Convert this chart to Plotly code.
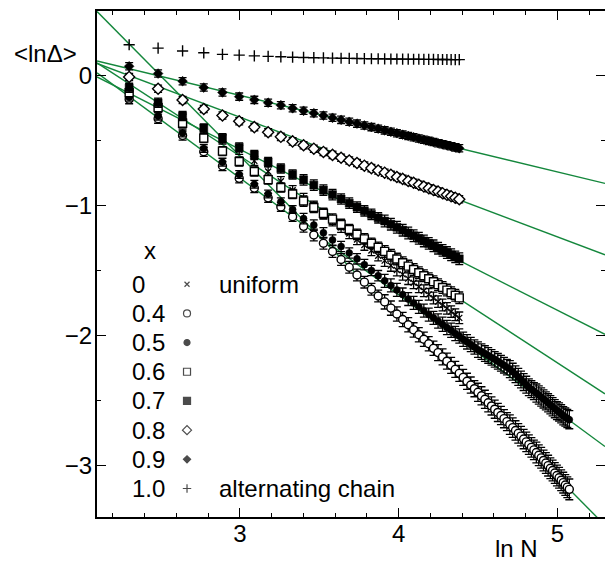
import numpy as np
import plotly.graph_objects as go

# ---------------- data ----------------
N_short = list(range(10, 81, 2))     # system sizes N = 10 ... 80
N_long = list(range(10, 161, 2))     # system sizes N = 10 ... 160

x_labels = ["0", "0.4", "0.5", "0.6", "0.7", "0.8", "0.9", "1.0"]
x_notes = ["uniform", "", "", "", "", "", "", "alternating chain"]
x_rows = [0, 1, 2, 3, 4, 5, 6, 7]

y_00 = [-0.14, -0.24, -0.33, -0.41, -0.49, -0.57, -0.655, -0.737, -0.812, -0.881,
        -0.946, -1.006, -1.063, -1.116, -1.167, -1.215, -1.261, -1.304, -1.346, -1.386,
        -1.424, -1.461, -1.496, -1.530, -1.563, -1.595, -1.626, -1.656, -1.684, -1.712,
        -1.740, -1.766, -1.792, -1.817, -1.841, -1.865]
e_00 = [0.035] * 10 + [0.04] * 10 + [0.045] * 16

y_04 = [-0.18, -0.33, -0.46, -0.585, -0.695, -0.79, -0.865, -0.94, -1.01, -1.086,
        -1.16, -1.226, -1.29, -1.354, -1.415, -1.475, -1.535, -1.59, -1.645, -1.697,
        -1.742, -1.790, -1.835, -1.878, -1.918, -1.958, -1.995, -2.030, -2.065, -2.100,
        -2.133, -2.166, -2.199, -2.231, -2.262, -2.293, -2.324, -2.354, -2.383, -2.411,
        -2.439, -2.466, -2.493, -2.519, -2.544, -2.569, -2.594, -2.618, -2.642, -2.665,
        -2.688, -2.711, -2.733, -2.755, -2.777, -2.799, -2.821, -2.842, -2.863, -2.883,
        -2.903, -2.924, -2.944, -2.964, -2.984, -3.004, -3.024, -3.042, -3.061, -3.080,
        -3.098, -3.117, -3.135, -3.153, -3.170, -3.187]
e_04 = [0.035] * 10 + [0.045] * 10 + [0.055] * 10 + [0.062] * 10 + [0.07] * 10 + [0.075] * 10 + [0.08] * 16

y_05 = [-0.165, -0.31, -0.44, -0.56, -0.665, -0.76, -0.835, -0.91, -0.97, -1.03,
        -1.10, -1.15, -1.21, -1.265, -1.315, -1.365, -1.41, -1.455, -1.50, -1.54,
        -1.58, -1.615, -1.65, -1.685, -1.72, -1.75, -1.78, -1.81, -1.84, -1.865,
        -1.89, -1.915, -1.94, -1.96, -1.985, -2.005, -2.03, -2.05, -2.07, -2.09,
        -2.11, -2.125, -2.14, -2.155, -2.17, -2.185, -2.20, -2.215, -2.23, -2.245,
        -2.26, -2.28, -2.30, -2.32, -2.34, -2.36, -2.38, -2.40, -2.415, -2.43,
        -2.445, -2.46, -2.475, -2.49, -2.505, -2.52, -2.535, -2.55, -2.565, -2.58,
        -2.59, -2.605, -2.62, -2.63, -2.64, -2.65]
e_05 = [0.03] * 10 + [0.04] * 10 + [0.05] * 10 + [0.055] * 10 + [0.06] * 10 + [0.065] * 10 + [0.07] * 16

y_06 = [-0.13, -0.245, -0.365, -0.48, -0.58, -0.66, -0.737, -0.80, -0.86, -0.91,
        -0.965, -1.014, -1.060, -1.104, -1.145, -1.184, -1.221, -1.256, -1.290, -1.322,
        -1.353, -1.383, -1.412, -1.440, -1.466, -1.492, -1.517, -1.541, -1.564, -1.587,
        -1.609, -1.631, -1.651, -1.672, -1.691, -1.711]
e_06 = [0.035] * 10 + [0.04] * 10 + [0.045] * 16

y_07 = [-0.092, -0.207, -0.309, -0.405, -0.48, -0.551, -0.610, -0.664, -0.714, -0.760,
        -0.802, -0.842, -0.880, -0.915, -0.949, -0.981, -1.011, -1.040, -1.067, -1.094,
        -1.119, -1.143, -1.167, -1.189, -1.211, -1.232, -1.252, -1.272, -1.291, -1.310,
        -1.328, -1.345, -1.362, -1.379, -1.395, -1.410]
e_07 = [0.035] * 10 + [0.04] * 10 + [0.045] * 16

y_08 = [-0.008, -0.099, -0.186, -0.255, -0.305, -0.35, -0.395, -0.435, -0.47, -0.505,
        -0.535, -0.561, -0.586, -0.609, -0.631, -0.652, -0.672, -0.692, -0.711, -0.729,
        -0.746, -0.763, -0.779, -0.794, -0.810, -0.824, -0.839, -0.853, -0.866, -0.879,
        -0.892, -0.904, -0.917, -0.928, -0.940, -0.951]
e_08 = [0.028] * 36

y_09 = [0.074, 0.018, -0.041, -0.09, -0.128, -0.16, -0.185, -0.207, -0.226, -0.25,
        -0.269, -0.288, -0.306, -0.323, -0.339, -0.354, -0.368, -0.382, -0.395, -0.407,
        -0.420, -0.431, -0.442, -0.453, -0.463, -0.473, -0.483, -0.492, -0.501, -0.510,
        -0.519, -0.527, -0.535, -0.543, -0.551, -0.558]
e_09 = [0.028] * 36

y_10 = [0.240, 0.214, 0.192, 0.178, 0.166, 0.160, 0.154, 0.150, 0.147, 0.144,
        0.142, 0.140, 0.139, 0.137, 0.136, 0.135, 0.134, 0.133, 0.132, 0.132,
        0.131, 0.130, 0.130, 0.129, 0.129, 0.128, 0.128, 0.127, 0.127, 0.127,
        0.126, 0.126, 0.126, 0.125, 0.125, 0.125]

# straight-line fits: value at ln N = 2.1 and slope, for x = 0.9, 0.8, 0.7, 0.6, 0.5, 0.4
fit_x0 = 2.1
fit_y0 = [0.115, 0.096, -0.008, 0.10, 0.023, 0.497]
fit_slope = [-0.295, -0.461, -0.62, -0.797, -0.90, -1.238]

X_RANGE = [2.1, 5.3]
Y_RANGE = [-3.4, 0.5]

# ---------------- styles ----------------
FONT = "Liberation Sans, Arial, sans-serif"
GREEN = "#14873c"
BLACK = "#000000"

styles = {
    "0":   dict(symbol="x-thin", size=6, color=BLACK, line=dict(color=BLACK, width=1.3)),
    "0.4": dict(symbol="circle", size=8, color="white", line=dict(color=BLACK, width=1.4)),
    "0.5": dict(symbol="circle", size=7, color=BLACK, line=dict(color=BLACK, width=0.5)),
    "0.6": dict(symbol="square", size=8, color="white", line=dict(color=BLACK, width=1.4)),
    "0.7": dict(symbol="square", size=8, color=BLACK, line=dict(color=BLACK, width=0.5)),
    "0.8": dict(symbol="diamond", size=8.5, color="white", line=dict(color=BLACK, width=1.4)),
    "0.9": dict(symbol="diamond", size=7.5, color=BLACK, line=dict(color=BLACK, width=0.5)),
    "1.0": dict(symbol="cross-thin", size=8, color=BLACK, line=dict(color=BLACK, width=1.4)),
}

series = [
    ("0", N_short, y_00, e_00),
    ("0.4", N_long, y_04, e_04),
    ("0.5", N_long, y_05, e_05),
    ("0.6", N_short, y_06, e_06),
    ("0.7", N_short, y_07, e_07),
    ("0.8", N_short, y_08, e_08),
    ("0.9", N_short, y_09, e_09),
    ("1.0", N_short, y_10, None),
]

fig = go.Figure()

# fitted lines (drawn beneath the data)
for y0, s in zip(fit_y0, fit_slope):
    xs = np.array(X_RANGE, dtype=float)
    ys = y0 + s * (xs - fit_x0)
    fig.add_trace(go.Scatter(x=xs, y=ys, mode="lines",
                             line=dict(color=GREEN, width=1.4),
                             hoverinfo="skip", showlegend=False))

for lab, N, y, e in series:
    err = None
    if e is not None:
        err = dict(type="data", array=e, visible=True, color=BLACK, thickness=1.3, width=4)
    fig.add_trace(go.Scatter(x=np.log(np.array(N, dtype=float)), y=y, mode="markers",
                             marker=styles[lab], error_y=err, showlegend=False,
                             name=lab))

# legend key markers placed on a small auxiliary axis (one row per x value)
small_sizes = {"0": 5, "0.4": 7, "0.5": 6, "0.6": 7, "0.7": 7, "0.8": 7, "0.9": 5.5, "1.0": 6}
fig.add_trace(go.Scatter(
    x=[0] * len(x_labels), y=x_rows, mode="markers",
    marker=dict(symbol=[styles[l]["symbol"] for l in x_labels],
                size=[small_sizes[l] for l in x_labels],
                color=[styles[l]["color"] for l in x_labels],
                line=dict(color=BLACK, width=1.2)),
    xaxis="x2", yaxis="y2", showlegend=False, hoverinfo="skip"))

axis_common = dict(
    showline=True, linecolor=BLACK, linewidth=2, mirror="allticks",
    ticks="inside", ticklen=9, tickwidth=1.3, tickcolor=BLACK,
    showgrid=False, zeroline=False,
    tickfont=dict(family=FONT, size=24, color=BLACK),
)

fig.update_layout(
    width=605, height=554,
    margin=dict(l=89, r=8, t=1, b=45),
    paper_bgcolor="white", plot_bgcolor="white",
    showlegend=False,
    xaxis=dict(range=X_RANGE, tick0=0, dtick=1, ticklabelstandoff=-6,
               minor=dict(ticks="inside", ticklen=4, tickwidth=1.3, dtick=0.2, tick0=0, tickcolor=BLACK),
               **axis_common),
    yaxis=dict(range=Y_RANGE, tick0=0, dtick=1, ticklabelstandoff=-2,
               minor=dict(ticks="inside", ticklen=4, tickwidth=1.3, dtick=0.5, tick0=0, tickcolor=BLACK),
               **axis_common),
    xaxis2=dict(domain=[0.1572, 0.1972], anchor="y2", range=[-1, 1],
                visible=False, fixedrange=True),
    yaxis2=dict(domain=[0.0275, 0.4889], anchor="x2",
                range=[len(x_labels) - 0.5, -0.5], visible=False, fixedrange=True),
)

annotations = []
for lab, note, r in zip(x_labels, x_notes, x_rows):
    annotations.append(dict(xref="paper", yref="y2", x=0.065, y=r, text=lab,
                            xanchor="left", yanchor="middle", showarrow=False,
                            font=dict(family=FONT, size=24, color=BLACK)))
    if note:
        annotations.append(dict(xref="paper", yref="y2", x=0.2362, y=r, text=note,
                                xanchor="left", yanchor="middle", showarrow=False,
                                font=dict(family=FONT, size=24, color=BLACK)))
annotations.append(dict(xref="paper", yref="paper", x=0.1043, y=0.5266, text="x",
                        xanchor="center", yanchor="middle", showarrow=False,
                        font=dict(family=FONT, size=24, color=BLACK)))
annotations.append(dict(xref="paper", yref="paper", x=-0.1014, y=0.9154, text="<lnΔ>",
                        xanchor="center", yanchor="middle", showarrow=False,
                        font=dict(family=FONT, size=24, color=BLACK)))
annotations.append(dict(xref="paper", yref="paper", x=0.8258, y=-0.0625, text="ln N",
                        xanchor="center", yanchor="middle", showarrow=False,
                        font=dict(family=FONT, size=24, color=BLACK)))
fig.update_layout(annotations=annotations)

fig.write_html("out.html")
